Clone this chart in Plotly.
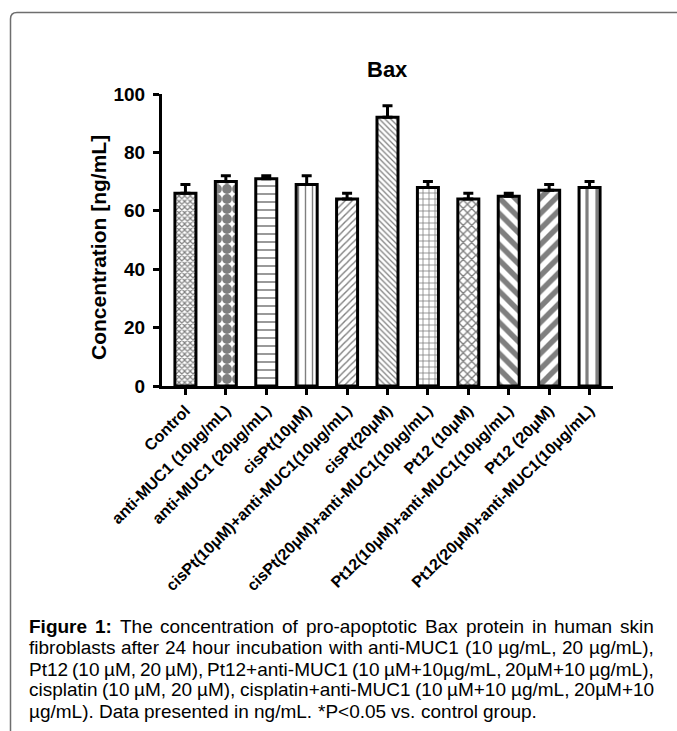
import plotly.graph_objects as go

# ---------------- data ----------------
categories = [
    "Control",
    "anti-MUC1 (10μg/mL)",
    "anti-MUC1 (20μg/mL)",
    "cisPt(10μM)",
    "cisPt(10μM)+anti-MUC1(10μg/mL)",
    "cisPt(20μM)",
    "cisPt(20μM)+anti-MUC1(10μg/mL)",
    "Pt12 (10μM)",
    "Pt12(10μM)+anti-MUC1(10μg/mL)",
    "Pt12 (20μM)",
    "Pt12(20μM)+anti-MUC1(10μg/mL)",
]
values = [66, 70, 71, 69, 64, 92, 68, 64, 65, 67, 68]
sem = [3, 2, 1, 3, 2, 4, 2, 2, 1, 2, 2]
significance = ["", "", "", "", "", "*", "", "", "", "", ""]
y_ticks = [0, 20, 40, 60, 80, 100]

pattern_shapes = ["x", ".", "-", "|", "/", "\\", "+", "x", "\\", "/", "|"]
pattern_sizes = [4, 10, 8, 7, 5, 4, 6, 6, 11, 11, 10]
pattern_solidity = [0.5, 0.75, 0.2, 0.2, 0.28, 0.32, 0.25, 0.4, 0.5, 0.5, 0.32]

chart_title = "Bax"
y_title = "Concentration [ng/mL]"

caption_lines = [
    "<b>Figure</b> <b>1:</b> The concentration of pro-apoptotic Bax protein in human skin",
    "fibroblasts after 24 hour incubation with anti-MUC1 (10 µg/mL, 20 µg/mL),",
    "Pt12 (10 µM, 20 µM), Pt12+anti-MUC1 (10 µM+10µg/mL, 20µM+10 µg/mL),",
    "cisplatin (10 µM, 20 µM), cisplatin+anti-MUC1 (10 µM+10 µg/mL, 20µM+10",
    "µg/mL). Data presented in ng/mL. *P<0.05 vs. control group.",
]

# ---------------- layout geometry ----------------
W, H = 677, 731
ML, MR, MT, MB = 162, 64, 94, 345
PW = W - ML - MR
PH = H - MT - MB
FONT = "Liberation Sans, Arial, sans-serif"


def px(x):
    return (x - ML) / PW


def py(y):
    return (H - MB - y) / PH


# Helvetica/Arial metrics (per 1000 em) for justified caption
REG = {' ': 278, '(': 333, ')': 333, '*': 389, '+': 584, ',': 278, '-': 333, '.': 278,
       '/': 278, ':': 278, '<': 584, 'µ': 576}
for d in "0123456789":
    REG[d] = 556
REG.update({'A': 667, 'B': 667, 'C': 722, 'D': 722, 'E': 667, 'F': 611, 'G': 778, 'H': 722,
            'I': 278, 'J': 500, 'K': 667, 'L': 556, 'M': 833, 'N': 722, 'O': 778, 'P': 667,
            'Q': 778, 'R': 722, 'S': 667, 'T': 611, 'U': 722, 'V': 667, 'W': 944, 'X': 667,
            'Y': 667, 'Z': 611,
            'a': 556, 'b': 556, 'c': 500, 'd': 556, 'e': 556, 'f': 278, 'g': 556, 'h': 556,
            'i': 222, 'j': 222, 'k': 500, 'l': 222, 'm': 833, 'n': 556, 'o': 556, 'p': 556,
            'q': 556, 'r': 333, 's': 500, 't': 278, 'u': 556, 'v': 500, 'w': 722, 'x': 500,
            'y': 500, 'z': 500})
BOLD = dict(REG)
BOLD.update({'F': 611, 'i': 278, 'g': 611, 'u': 611, 'r': 389, 'e': 556, '1': 556, ':': 333})


def word_width(word, fs):
    bold = word.startswith("<b>")
    w = word.replace("<b>", "").replace("</b>", "")
    table = BOLD if bold else REG
    return sum(table.get(c, 556) for c in w) * fs / 1000.0


fig = go.Figure()

fig.add_trace(go.Bar(
    x=categories,
    y=values,
    width=0.52,
    marker=dict(
        color="white",
        line=dict(color="black", width=3),
        pattern=dict(
            shape=pattern_shapes,
            size=pattern_sizes,
            solidity=pattern_solidity,
            fgcolor="black",
            bgcolor="white",
            fillmode="overlay",
        ),
    ),
    error_y=dict(
        type="data",
        symmetric=False,
        array=sem,
        arrayminus=[0] * len(sem),
        color="black",
        thickness=3,
        width=5,
    ),
    showlegend=False,
))

annotations = []
# significance stars
for cat, v, s, sig in zip(categories, values, sem, significance):
    if sig:
        annotations.append(dict(
            x=cat, y=v + s + 6, xref="x", yref="y", text=sig, showarrow=False,
            font=dict(family=FONT, size=21, color="black"), yanchor="middle"))

# chart title
annotations.append(dict(
    x=px(387), y=py(70), xref="paper", yref="paper", text="<b>%s</b>" % chart_title,
    showarrow=False, font=dict(family=FONT, size=22, color="black"),
    xanchor="center", yanchor="middle"))

# y axis title
annotations.append(dict(
    x=px(98), y=py(248), xref="paper", yref="paper", text="<b>%s</b>" % y_title,
    showarrow=False, textangle=-90, font=dict(family=FONT, size=21, color="black"),
    xanchor="center", yanchor="middle"))

# justified caption
CAP_FS = 19
CAP_L, CAP_R = 29, 654
cap_y = [626, 647.5, 669, 690, 711]
for i, (line, ypos) in enumerate(zip(caption_lines, cap_y)):
    words = line.split(" ")
    widths = [word_width(w, CAP_FS) for w in words]
    last = i == len(caption_lines) - 1
    if last or len(words) < 2:
        gap = 278 * CAP_FS / 1000.0
    else:
        gap = (CAP_R - CAP_L - sum(widths)) / (len(words) - 1)
    x = CAP_L
    for w, ww in zip(words, widths):
        annotations.append(dict(
            x=px(x), y=py(ypos), xref="paper", yref="paper", text=w, showarrow=False,
            font=dict(family=FONT, size=CAP_FS, color="black"),
            xanchor="left", yanchor="middle", borderpad=0, borderwidth=0))
        x += ww + gap

# rounded frame
frame_path = "M %f %f L %f %f Q %f %f %f %f L %f %f" % (
    px(10.5), py(745), px(10.5), py(19), px(10.5), py(12.5), px(17), py(12.5), px(690), py(12.5))

fig.update_layout(
    width=W, height=H,
    margin=dict(l=ML, r=MR, t=MT, b=MB, pad=0),
    paper_bgcolor="white",
    plot_bgcolor="white",
    font=dict(family=FONT, color="black"),
    bargap=0.48,
    annotations=annotations,
    shapes=[dict(type="path", path=frame_path, xref="paper", yref="paper",
                 line=dict(color="#6e6e6e", width=1.5), layer="above")],
    xaxis=dict(
        range=[-0.58, 10.58],
        showline=True, linecolor="black", linewidth=3,
        ticks="outside", ticklen=6, tickwidth=3, tickcolor="black",
        tickangle=-45,
        tickfont=dict(family=FONT, size=16, color="black", weight="bold"),
        showgrid=False, zeroline=False, fixedrange=True,
    ),
    yaxis=dict(
        range=[0, 100],
        tickvals=y_ticks,
        showline=True, linecolor="black", linewidth=3,
        ticks="outside", ticklen=6, tickwidth=3, tickcolor="black",
        tickfont=dict(family=FONT, size=19, color="black", weight="bold"),
        ticklabelstandoff=4,
        showgrid=False, zeroline=False, fixedrange=True,
    ),
)

fig.write_html("out.html")
